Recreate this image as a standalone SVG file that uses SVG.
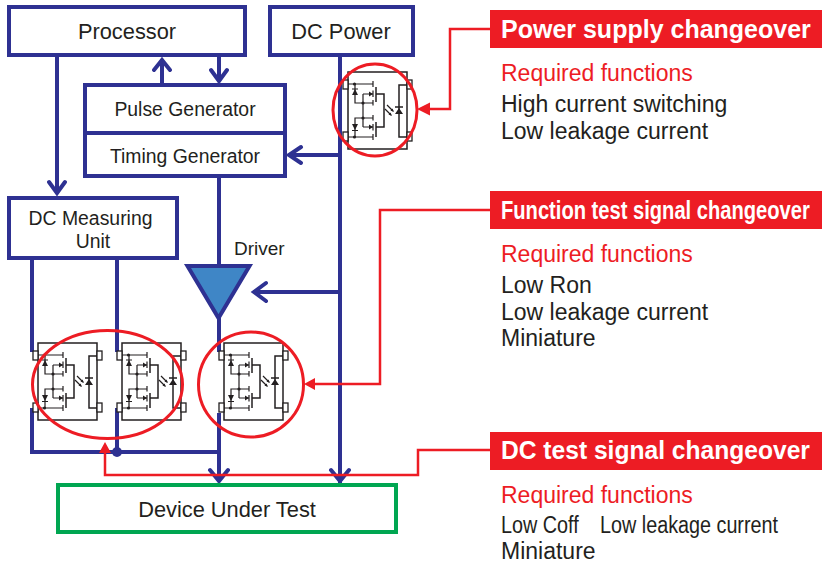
<svg xmlns="http://www.w3.org/2000/svg" xmlns:xlink="http://www.w3.org/1999/xlink" width="822" height="563" viewBox="0 0 822 563">
<style>
text{font-family:"Liberation Sans",Arial,sans-serif;fill:#231f20}
.box{fill:#fff;stroke:#2e3192;stroke-width:4}
.b{fill:none;stroke:#2e3192;stroke-width:4}
.h{fill:none;stroke:#2e3192;stroke-width:4;stroke-linecap:round;stroke-linejoin:miter}
.r{fill:none;stroke:#ed1c24;stroke-width:2.500}
.e{fill:none;stroke:#ed1c24;stroke-width:3}
.rf{fill:#ed1c24}
.t20{font-size:21.800px;text-anchor:middle}
.t18{font-size:19.400px;text-anchor:middle}
.hd{font-size:25px;font-weight:bold;fill:#fff}
.req{font-size:23px;fill:#ed1c24}
.fn{font-size:23px}
.ln{fill:none;stroke:#231f20;stroke-width:1.200}
.bd{fill:none;stroke:#231f20;stroke-width:1.500}
.pin{fill:#fff;stroke:#231f20;stroke-width:1.300}
.d{fill:#231f20}
</style>
<defs>
<g id="relay">
<rect class="bd" x="0" y="0" width="59" height="77"/>
<rect class="pin" x="-5" y="8" width="5" height="9"/>
<rect class="pin" x="-5" y="60" width="5" height="9"/>
<rect class="pin" x="59" y="8" width="5" height="9"/>
<rect class="pin" x="59" y="60" width="5" height="9"/>
<path class="ln" d="M0 12H25M25 9V15M7 12V31H15M15 22V55M15 22H25M25 18.500V25M15 31H25M25 28V33.500M15 46H25M25 43V48.500M15 55H25M25 52V58.500M15 46H7V65M0 65H25M25 62V68"/>
<path class="bd" d="M28 15V30M28 50V65M28 22H36V55H28M59 13H51V65H59M47 35H55"/>
<path class="d" d="M7 17L10 23H4ZM21 19.500L25 22L21 24.500ZM21 52.500L25 55L21 57.500ZM7 58L10 52H4ZM51 36L55 42H47Z"/>
<path class="ln" d="M4 17H10M4 58.500H10"/>
<circle class="d" cx="6.500" cy="12" r="1.600"/><circle class="d" cx="6.500" cy="65" r="1.600"/>
<circle class="d" cx="15" cy="31" r="1.600"/><circle class="d" cx="15" cy="46" r="1.600"/>
<path class="ln" d="M39 33L45 39M37 37L43 43"/>
<path class="d" d="M46 40L42.500 38.500L44.500 36.500ZM44 44L40.500 42.500L42.500 40.500Z"/>
</g>
</defs>

<g id="connectors">
<path class="b" d="M57 57V192M162 84V60M219 57V81M340 57V483M340 155H289M340 292H255M219 178V266M219 318V352M219 413V481"/>
<path class="b" d="M32 258V352M117 258V352M32 408V452H219M117 408V452"/>
<path class="h" d="M49 182L57 193L65 182M154 70L162 60L170 70M211 70L219 81L227 70M301 147L289 155L301 163M266 283L254 292L266 301M210 470L219 481L228 470M331 470L340 481L349 470"/>
<circle cx="117" cy="452" r="5" fill="#2e3192"/>
<path class="r" d="M490 29H450V109H428M490 210H380V384H314M490 450H418V475H105V451"/>
<path class="rf" d="M417 109L430 102.500V115.500ZM304 384L315 378V390ZM105 442L99 453H111Z"/>
</g>

<g id="processor"><rect class="box" x="9" y="7" width="236" height="48"/><text class="t20" x="127" y="39">Processor</text></g>
<g id="dc-power"><rect class="box" x="270" y="7" width="143" height="48"/><text class="t20" x="341" y="39">DC Power</text></g>
<g id="pulse-generator"><rect class="box" x="85" y="85" width="200" height="48"/><text class="t18" x="185" y="116">Pulse Generator</text></g>
<g id="timing-generator"><rect class="box" x="85" y="133" width="200" height="43"/><text class="t18" x="185" y="163">Timing Generator</text></g>
<g id="dc-measuring-unit"><rect class="box" x="9" y="198" width="168" height="60"/><text class="t18" x="90.500" y="225">DC Measuring</text><text class="t18" x="93" y="248">Unit</text></g>
<g id="driver"><path d="M187.500 266H249.500L218.500 318Z" fill="#3f86c6" stroke="#2e3192" stroke-width="4"/><text x="234" y="255" style="font-size:19px">Driver</text></g>
<g id="device-under-test"><rect x="58" y="485" width="338" height="47" fill="#fff" stroke="#00a651" stroke-width="4"/><text class="t20" x="227" y="517">Device Under Test</text></g>

<g id="relay-power"><use href="#relay" xlink:href="#relay" x="348" y="72"/><ellipse class="e" cx="375" cy="110" rx="42" ry="46"/></g>
<g id="relay-dc-1"><use href="#relay" xlink:href="#relay" x="38" y="343"/></g>
<g id="relay-dc-2"><use href="#relay" xlink:href="#relay" x="122" y="343"/><ellipse class="e" cx="107.500" cy="384.500" rx="75" ry="54"/></g>
<g id="relay-function"><use href="#relay" xlink:href="#relay" x="224" y="343"/><circle class="e" cx="251" cy="384.500" r="52.500"/></g>

<g id="power-supply">
<rect class="rf" x="490" y="10" width="332" height="38"/>
<text class="hd" transform="translate(501 38) scale(1 1)">Power supply changeover</text>
<text class="req" x="501" y="81">Required functions</text>
<text class="fn" x="501" y="112">High current switching</text>
<text class="fn" x="501" y="139">Low leakage current</text>
</g>
<g id="function-test">
<rect class="rf" x="490" y="191" width="332" height="38"/>
<text class="hd" transform="translate(501 219) scale(.806 1)">Function test signal changeover</text>
<text class="req" x="501" y="262">Required functions</text>
<text class="fn" x="501" y="293">Low Ron</text>
<text class="fn" x="501" y="320">Low leakage current</text>
<text class="fn" x="501" y="346">Miniature</text>
</g>
<g id="dc-test">
<rect class="rf" x="490" y="432" width="332" height="38"/>
<text class="hd" transform="translate(501 459) scale(.984 1)">DC test signal changeover</text>
<text class="req" x="501" y="503">Required functions</text>
<text class="fn" transform="translate(501 533) scale(.86 1)">Low Coff</text>
<text class="fn" transform="translate(600 533) scale(.86 1)">Low leakage current</text>
<text class="fn" x="501" y="559">Miniature</text>
</g>
</svg>
